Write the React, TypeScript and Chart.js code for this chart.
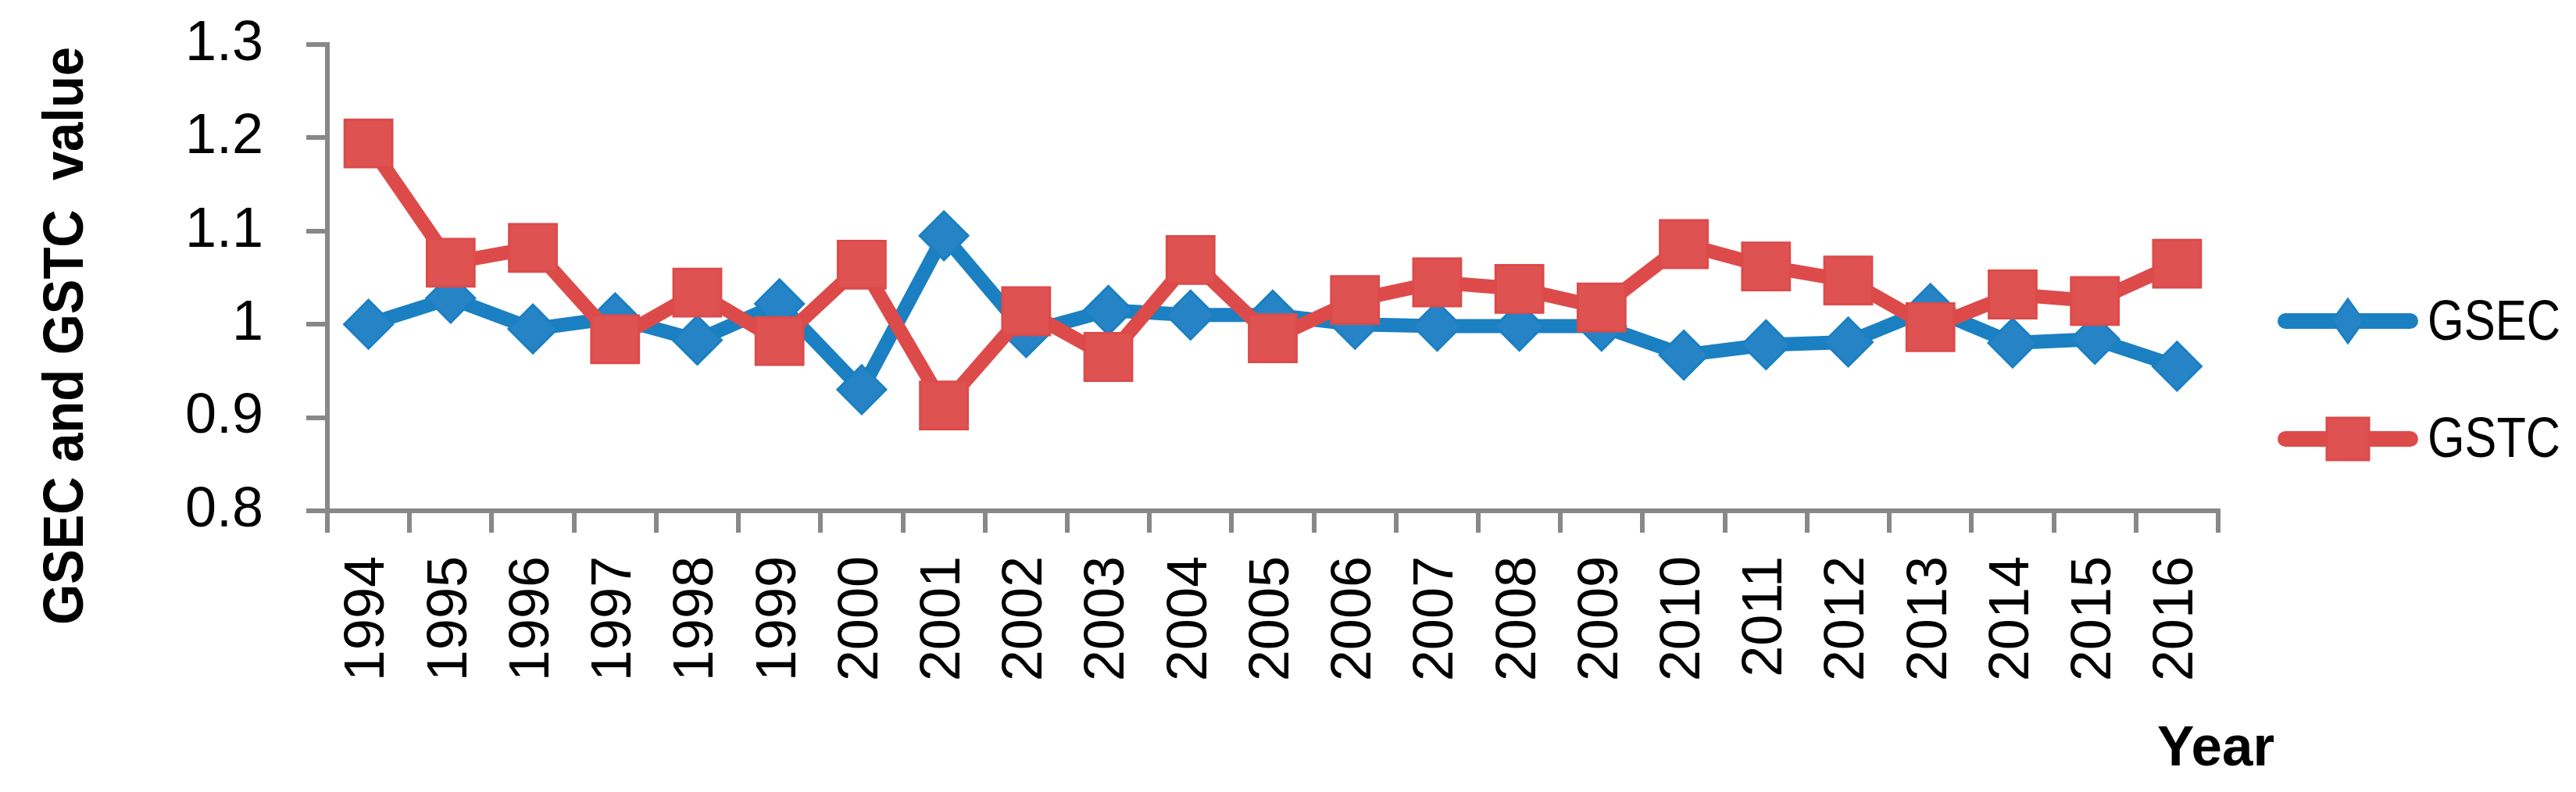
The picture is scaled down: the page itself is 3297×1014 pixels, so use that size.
import React, { useEffect, useRef } from 'react';
import { Chart, registerables } from 'chart.js';

Chart.register(...registerables);

const years = ['1994', '1995', '1996', '1997', '1998', '1999', '2000', '2001', '2002', '2003', '2004', '2005', '2006', '2007', '2008', '2009', '2010', '2011', '2012', '2013', '2014', '2015', '2016'];
const gsecValues = [1.0, 1.028, 0.995, 1.007, 0.983, 1.022, 0.93, 1.095, 0.991, 1.015, 1.01, 1.01, 1.0, 0.998, 0.998, 0.998, 0.967, 0.978, 0.981, 1.017, 0.98, 0.984, 0.955];
const gstcValues = [1.194, 1.066, 1.082, 0.984, 1.034, 0.982, 1.064, 0.913, 1.014, 0.965, 1.069, 0.985, 1.026, 1.045, 1.038, 1.018, 1.086, 1.062, 1.047, 0.997, 1.032, 1.025, 1.065];
const yTickValues = [0.8, 0.9, 1.0, 1.1, 1.2, 1.3];
const yTickLabels = ['0.8', '0.9', '1', '1.1', '1.2', '1.3'];
const seriesNames = ['GSEC', 'GSTC'];
const yAxisTitle = 'GSEC and GSTC  value';
const xAxisTitle = 'Year';

const BLUE_LINE = '#1A80C2';
const BLUE_FILL = '#2684C6';
const RED_LINE = '#DC4B4A';
const RED_FILL = '#DE5252';
const AXIS = '#888888';
const FONT = "'Liberation Sans', Arial, sans-serif";

function drawCondensed(ctx: CanvasRenderingContext2D, text: string, x: number, y: number, targetWidth: number, align: 'left' | 'center') {
  const w = ctx.measureText(text).width;
  const s = Math.min(1, targetWidth / w);
  ctx.save();
  ctx.translate(x, y);
  ctx.scale(s, 1);
  ctx.textAlign = align;
  ctx.fillText(text, 0, 0);
  ctx.restore();
}

const extrasPlugin = {
  id: 'extras',
  afterDraw(chart: any) {
    const ctx: CanvasRenderingContext2D = chart.ctx;
    ctx.save();
    ctx.fillStyle = '#000';
    ctx.textBaseline = 'alphabetic';

    // Y axis title (rotated)
    ctx.save();
    ctx.font = `bold 72px ${FONT}`;
    ctx.translate(106, 430);
    ctx.rotate(-Math.PI / 2);
    drawCondensed(ctx, yAxisTitle, 0, 0, 740, 'center');
    ctx.restore();

    // X axis title
    ctx.font = `bold 72px ${FONT}`;
    drawCondensed(ctx, xAxisTitle, 2836, 980, 150, 'center');

    // Legend
    const lx1 = 2925, lx2 = 3085, mx = 3005;
    const rows = [
      { name: seriesNames[0], y: 411, base: 435, color: BLUE_LINE, fill: BLUE_FILL, shape: 'diamond' },
      { name: seriesNames[1], y: 562, base: 585, color: RED_LINE, fill: RED_FILL, shape: 'square' },
    ];
    for (const r of rows) {
      ctx.save();
      ctx.strokeStyle = r.color;
      ctx.lineWidth = 20;
      ctx.lineCap = 'round';
      ctx.beginPath();
      ctx.moveTo(lx1, r.y);
      ctx.lineTo(lx2, r.y);
      ctx.stroke();
      ctx.fillStyle = r.fill;
      ctx.lineWidth = 3;
      ctx.lineCap = 'butt';
      ctx.beginPath();
      if (r.shape === 'diamond') {
        ctx.moveTo(mx, r.y - 28);
        ctx.lineTo(mx + 20, r.y);
        ctx.lineTo(mx, r.y + 28);
        ctx.lineTo(mx - 20, r.y);
        ctx.closePath();
      } else {
        ctx.rect(mx - 27, r.y - 27, 54, 54);
      }
      ctx.fill();
      ctx.stroke();
      ctx.restore();
      ctx.font = `72px ${FONT}`;
      ctx.fillStyle = '#000';
      drawCondensed(ctx, r.name, 3107, r.base, 170, 'left');
    }
    ctx.restore();
  },
};

export default function App() {
  const ref = useRef<HTMLCanvasElement>(null);

  useEffect(() => {
    const canvas = ref.current;
    if (!canvas) return;
    const chart = new Chart(canvas, {
      type: 'line',
      data: {
        labels: years,
        datasets: [
          {
            label: seriesNames[0],
            data: gsecValues,
            borderColor: BLUE_LINE,
            backgroundColor: BLUE_FILL,
            borderWidth: 18,
            borderJoinStyle: 'round',
            borderCapStyle: 'round',
            pointStyle: 'rectRot',
            pointRadius: 31,
            pointBorderWidth: 3,
            pointBorderColor: BLUE_LINE,
            pointBackgroundColor: BLUE_FILL,
            tension: 0,
            order: 1,
            clip: false,
          },
          {
            label: seriesNames[1],
            data: gstcValues,
            borderColor: RED_LINE,
            backgroundColor: RED_FILL,
            borderWidth: 18,
            borderJoinStyle: 'round',
            borderCapStyle: 'round',
            pointStyle: 'rect',
            pointRadius: 43,
            pointBorderWidth: 3,
            pointBorderColor: RED_LINE,
            pointBackgroundColor: RED_FILL,
            tension: 0,
            order: 0,
            clip: false,
          },
        ],
      },
      options: {
        animation: false,
        responsive: false,
        devicePixelRatio: 1,
        events: [],
        layout: { autoPadding: false, padding: { left: 0, top: 57, right: 458, bottom: 0 } },
        plugins: {
          legend: { display: false },
          tooltip: { enabled: false },
          title: { display: false },
        },
        scales: {
          x: {
            type: 'category',
            offset: true,
            grid: {
              display: true,
              offset: true,
              drawOnChartArea: false,
              drawTicks: true,
              tickLength: 28,
              lineWidth: 6,
              color: AXIS,
            },
            border: { display: true, color: AXIS, width: 6 },
            ticks: {
              autoSkip: false,
              maxRotation: 90,
              minRotation: 90,
              padding: 30,
              color: '#000',
              font: { family: FONT, size: 72 },
            },
            afterFit: (s: any) => {
              s.height = 360;
              s.paddingLeft = 0;
              s.paddingRight = 0;
              s.paddingTop = 0;
              s.paddingBottom = 0;
            },
          },
          y: {
            type: 'linear',
            min: 0.8,
            max: 1.3,
            grid: {
              display: true,
              drawOnChartArea: false,
              drawTicks: true,
              tickLength: 27,
              lineWidth: 6,
              color: AXIS,
            },
            border: { display: true, color: AXIS, width: 6 },
            afterBuildTicks: (s: any) => {
              s.ticks = yTickValues.map((v) => ({ value: v }));
            },
            ticks: {
              padding: 55,
              color: '#000',
              font: { family: FONT, size: 72 },
              callback: (_v: any, i: number) => yTickLabels[i],
            },
            afterFit: (s: any) => {
              s.width = 419;
              s.paddingTop = 0;
              s.paddingBottom = 0;
              s.paddingLeft = 0;
              s.paddingRight = 0;
            },
          },
        },
      },
      plugins: [extrasPlugin],
    } as any);
    return () => chart.destroy();
  }, []);

  return (
    <div style={{ position: 'absolute', left: 0, top: 0, width: 3297, height: 1014, background: '#fff' }}>
      <canvas ref={ref} width={3297} height={1014} style={{ display: 'block', width: 3297, height: 1014 }} />
    </div>
  );
}
